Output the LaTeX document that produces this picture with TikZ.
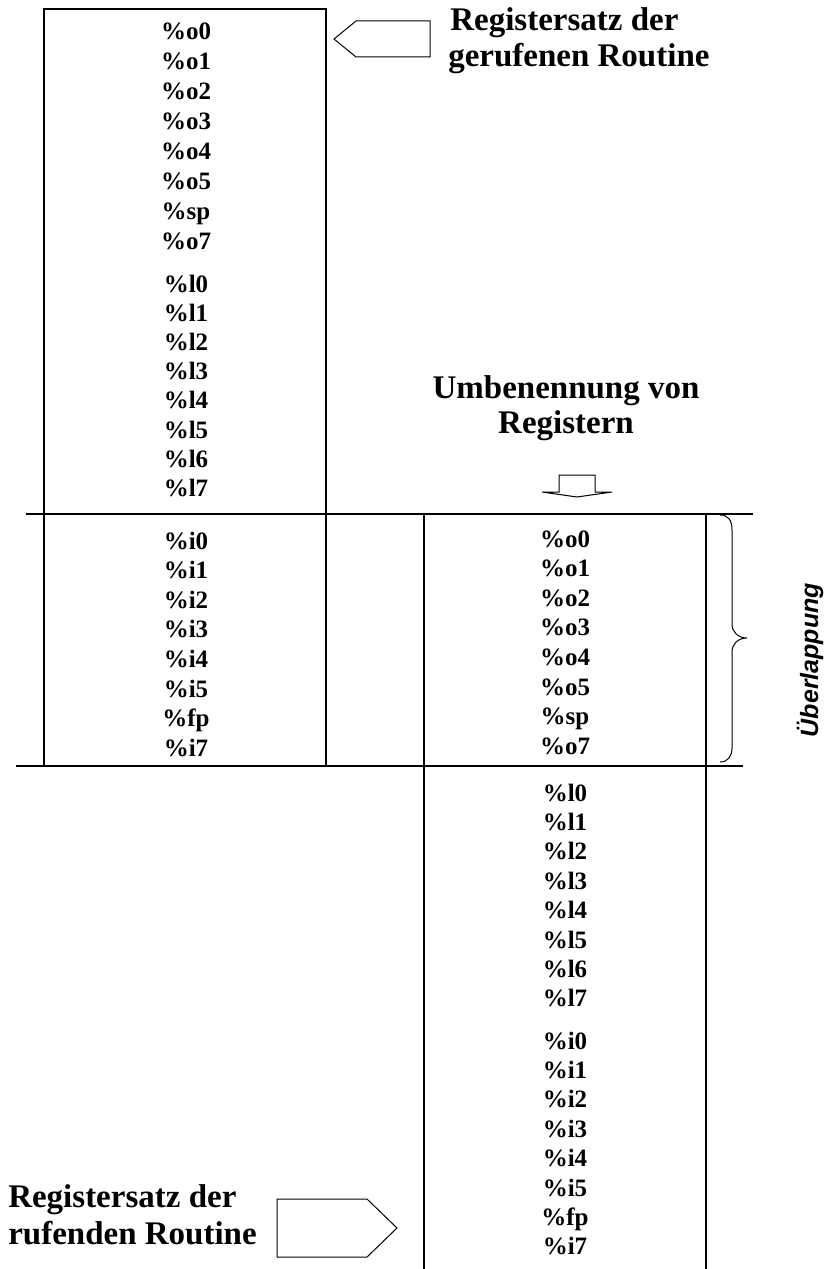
\documentclass[tikz,border=0pt]{standalone}
\usepackage{fontspec}
\setmainfont{Liberation Serif}
\setsansfont{Liberation Sans}
\begin{document}
\begin{tikzpicture}[x=0.75pt,y=-0.75pt,
  reg/.style={font=\fontsize{18.75}{20}\selectfont\bfseries, anchor=base, inner sep=0pt},
  head/.style={font=\fontsize{24.75}{27}\selectfont\bfseries, inner sep=0pt},
  boxline/.style={line width=1.5pt},
  thinline/.style={line width=0.75pt, line join=miter}]
\useasboundingbox (0,0) rectangle (832,1269);

% frame lines
\draw[boxline] (26,514) -- (753,514);
\draw[boxline] (16,766) -- (743,766);
\draw[boxline] (44,766) -- (44,9) -- (326,9) -- (326,766);
\draw[boxline] (424,514) -- (424,1269);
\draw[boxline] (706,514) -- (706,1269);

% left column
\foreach \t [count=\i] in {o0,o1,o2,o3,o4,o5,sp,o7}
  \node[reg] (la\i) at (186,{40+30*(\i-1)}) {\%\t};
\foreach \t [count=\i] in {l0,l1,l2,l3,l4,l5,l6,l7}
  \node[reg] (lb\i) at (186,{292+29.2*(\i-1)}) {\%\t};
\foreach \t [count=\i] in {i0,i1,i2,i3,i4,i5,fp,i7}
  \node[reg] (lc\i) at (186,{549+29.6*(\i-1)}) {\%\t};

% right column
\foreach \t [count=\i] in {o0,o1,o2,o3,o4,o5,sp,o7}
  \node[reg] (ra\i) at (565,{547+29.6*(\i-1)}) {\%\t};
\foreach \t [count=\i] in {l0,l1,l2,l3,l4,l5,l6,l7}
  \node[reg] (rb\i) at (565,{801+29.4*(\i-1)}) {\%\t};
\foreach \t [count=\i] in {i0,i1,i2,i3,i4,i5,fp,i7}
  \node[reg] (rc\i) at (565,{1049+29.4*(\i-1)}) {\%\t};

% headings
\node[head, anchor=base west] (h1a) at (450,31) {Registersatz der};
\node[head, anchor=base west] (h1b) at (448,67) {gerufenen Routine};
\node[head, anchor=base] (h2a) at (566,398) {Umbenennung von};
\node[head, anchor=base] (h2b) at (566,433) {Registern};
\node[head, anchor=base west] (h3a) at (8,1207) {Registersatz der};
\node[head, anchor=base west] (h3b) at (8,1244) {rufenden Routine};

% overlap label
\node[font=\fontsize{18.75}{20}\selectfont\sffamily\bfseries\itshape, rotate=90, inner sep=0pt] (ov) at (810,660) {Überlappung};

% block arrows
\draw[thinline] (334,39) -- (356,21) -- (430,21) -- (430,57) -- (356,57) -- cycle;
\draw[thinline] (277,1199) -- (367,1199) -- (397,1228) -- (367,1257) -- (277,1257) -- cycle;
\draw[thinline] (559,475) -- (595,475) -- (595,492) -- (612,492) -- (577,497) -- (542,492) -- (559,492) -- cycle;

% brace
\draw[thinline] (720,515) .. controls (728,515) and (732,520) .. (732,530) -- (732,624)
  .. controls (732,632) and (738,638) .. (747,638)
  .. controls (738,638) and (732,644) .. (732,652) -- (732,748)
  .. controls (732,756) and (728,762) .. (720,762);
\end{tikzpicture}
\end{document}
